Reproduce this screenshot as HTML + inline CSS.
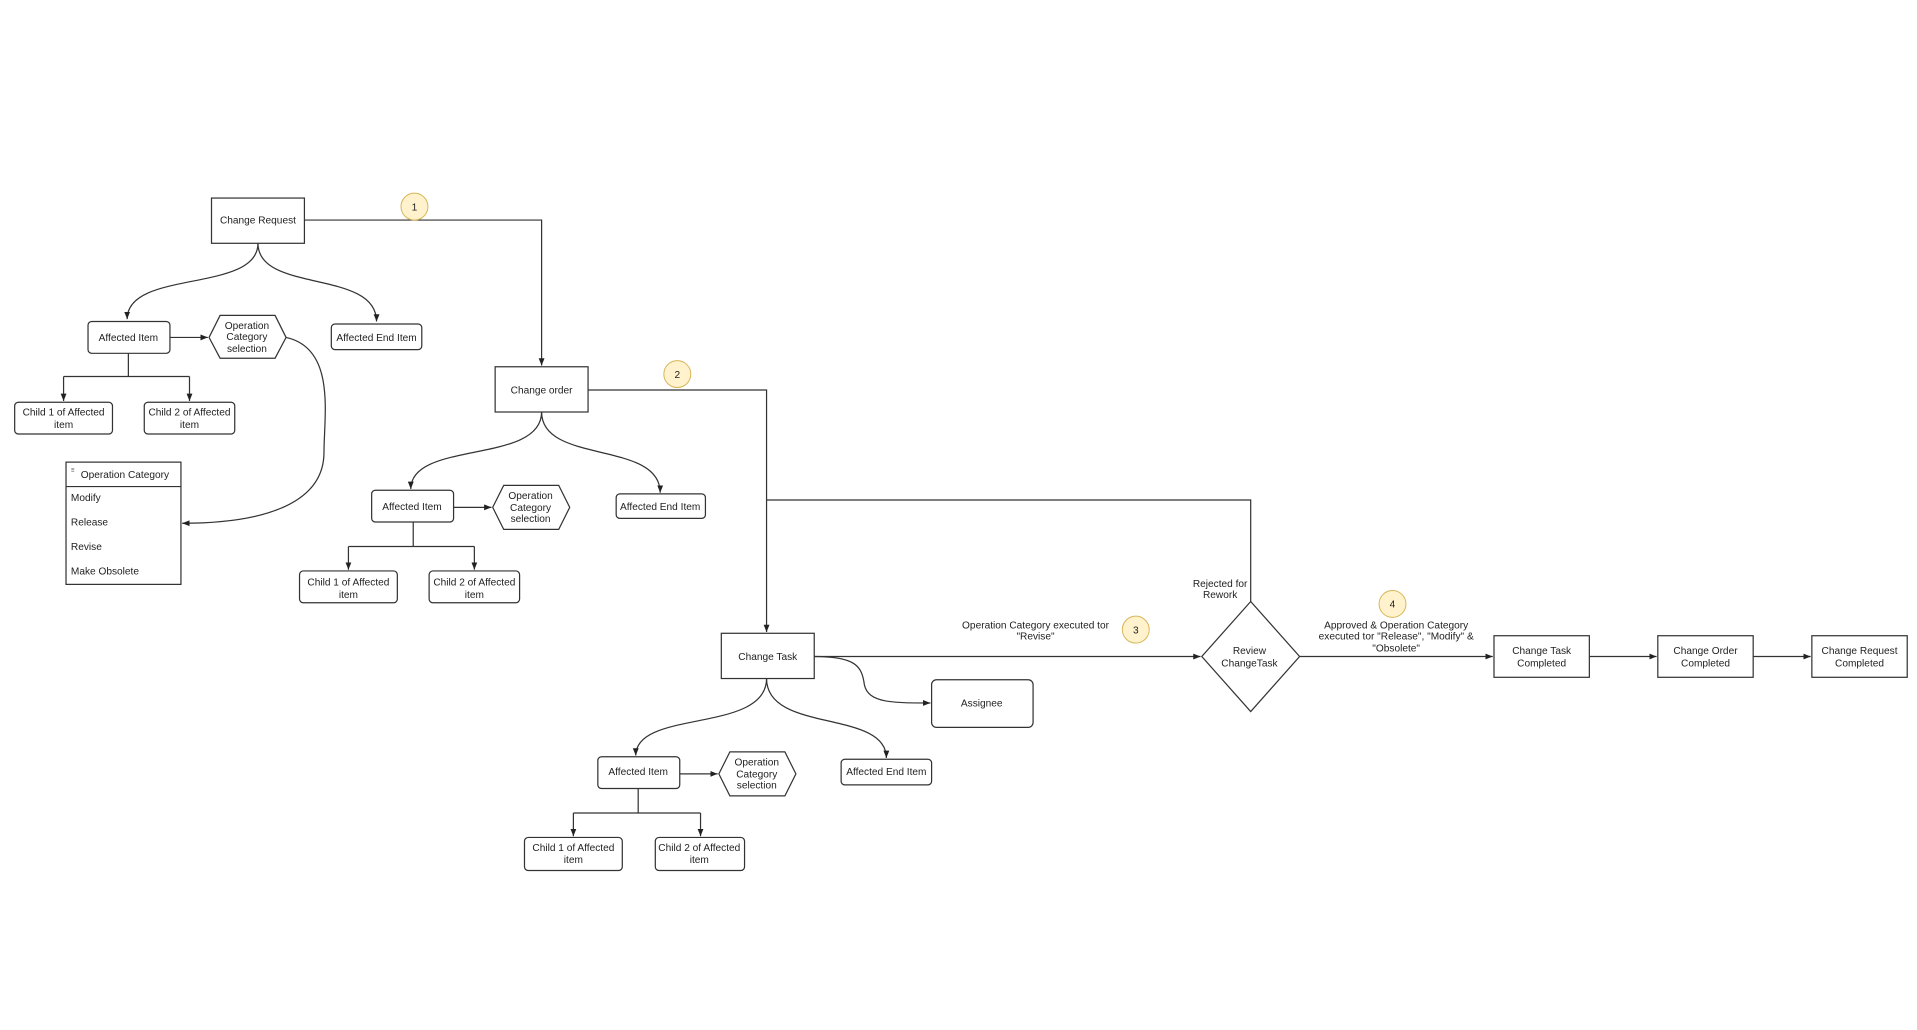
<!DOCTYPE html>
<html><head><meta charset="utf-8"><style>
html,body{margin:0;padding:0;background:#fff;width:1917px;height:1030px;overflow:hidden}
svg{display:block}
text{font-family:"Liberation Sans",Arial,sans-serif;font-size:8.3px;fill:#222;text-anchor:middle}
.b{fill:#fff;stroke:#333;stroke-width:1}
.l{fill:none;stroke:#333;stroke-width:1}
.bd{fill:#fff2cc;stroke:#d6b656;stroke-width:0.8}
</style></head><body>
<svg width="1917" height="1030" viewBox="0 0 1568 842.5" preserveAspectRatio="none" xmlns="http://www.w3.org/2000/svg">
<defs><marker id="a" viewBox="0 0 10 10" refX="10" refY="5" markerWidth="6" markerHeight="6" orient="auto"><path d="M0,1 L10,5 L0,9 z" fill="#222"/></marker></defs>

<!-- Change Request block -->
<rect class="b" x="173" y="162" width="76" height="37"/><text x="211" y="183">Change Request</text>
<path class="l" d="M249,180 H443 V299" marker-end="url(#a)"/>
<circle class="bd" cx="339" cy="169" r="11"/><text x="339" y="172">1</text>
<path class="l" d="M211,199 C211,240 104,220 104,261" marker-end="url(#a)"/>
<path class="l" d="M211,199 C211,240 308,220 308,263" marker-end="url(#a)"/>
<rect class="b" x="72" y="263" width="67" height="26" rx="3"/><text x="105" y="279">Affected Item</text>
<path class="l" d="M139,276 H170" marker-end="url(#a)"/>
<polygon class="b" points="171,276 180,258 225,258 234,276 225,293 180,293"/>
<text x="202" y="269">Operation</text><text x="202" y="278">Category</text><text x="202" y="288">selection</text>
<rect class="b" x="271" y="265" width="74" height="21" rx="3"/><text x="308" y="279">Affected End Item</text>
<path class="l" d="M105,289 V308 M52,308 H155"/>
<path class="l" d="M52,308 V328" marker-end="url(#a)"/><path class="l" d="M155,308 V328" marker-end="url(#a)"/>
<rect class="b" x="12" y="329" width="80" height="26" rx="3"/><text x="52" y="340">Child 1 of Affected</text><text x="52" y="350">item</text>
<rect class="b" x="118" y="329" width="74" height="26" rx="3"/><text x="155" y="340">Child 2 of Affected</text><text x="155" y="350">item</text>
<rect class="b" x="54" y="378" width="94" height="100"/><line class="l" x1="54" y1="398" x2="148" y2="398"/>
<text x="58" y="386" style="font-size:5px;text-anchor:start">≡</text>
<text x="66" y="391" style="text-anchor:start">Operation Category</text>
<text x="58" y="410" style="text-anchor:start">Modify</text>
<text x="58" y="430" style="text-anchor:start">Release</text>
<text x="58" y="450" style="text-anchor:start">Revise</text>
<text x="58" y="470" style="text-anchor:start">Make Obsolete</text>
<path class="l" d="M234,276 C275,285 265,340 265,370 C265,410 220,428 149,428" marker-end="url(#a)"/>

<!-- Change order block -->
<rect class="b" x="405" y="300" width="76" height="37"/><text x="443" y="322">Change order</text>
<circle class="bd" cx="554" cy="306" r="11"/><text x="554" y="309">2</text>
<path class="l" d="M481,319 H627 V517" marker-end="url(#a)"/>
<path class="l" d="M1023,492 V409 H627"/>
<path class="l" d="M443,337 C443,380 336,360 336,400" marker-end="url(#a)"/>
<path class="l" d="M443,337 C443,380 540,360 540,403" marker-end="url(#a)"/>
<rect class="b" x="304" y="401" width="67" height="26" rx="3"/><text x="337" y="417">Affected Item</text>
<path class="l" d="M371,415 H402" marker-end="url(#a)"/>
<polygon class="b" points="403,415 412,397 457,397 466,415 457,433 412,433"/>
<text x="434" y="408">Operation</text><text x="434" y="418">Category</text><text x="434" y="427">selection</text>
<rect class="b" x="504" y="404" width="73" height="20" rx="3"/><text x="540" y="417">Affected End Item</text>
<path class="l" d="M338,427 V447 M285,447 H388"/>
<path class="l" d="M285,447 V466" marker-end="url(#a)"/><path class="l" d="M388,447 V466" marker-end="url(#a)"/>
<rect class="b" x="245" y="467" width="80" height="26" rx="3"/><text x="285" y="479">Child 1 of Affected</text><text x="285" y="489">item</text>
<rect class="b" x="351" y="467" width="74" height="26" rx="3"/><text x="388" y="479">Child 2 of Affected</text><text x="388" y="489">item</text>

<!-- Change Task block -->
<rect class="b" x="590" y="518" width="76" height="37"/><text x="628" y="540">Change Task</text>
<path class="l" d="M666,537 H982" marker-end="url(#a)"/>
<text x="847" y="514">Operation Category executed tor</text><text x="847" y="523">"Revise"</text>
<circle class="bd" cx="929" cy="515" r="11"/><text x="929" y="518">3</text>
<path class="l" d="M666,537 C700,537 705,545 707,560 C710,575 730,575 761,575" marker-end="url(#a)"/>
<rect class="b" x="762" y="556" width="83" height="39" rx="4"/><text x="803" y="578">Assignee</text>
<path class="l" d="M627,555 C627,600 520,580 520,618" marker-end="url(#a)"/>
<path class="l" d="M627,555 C627,600 725,580 725,620" marker-end="url(#a)"/>
<rect class="b" x="489" y="619" width="67" height="26" rx="3"/><text x="522" y="634">Affected Item</text>
<path class="l" d="M556,633 H587" marker-end="url(#a)"/>
<polygon class="b" points="588,633 597,615 642,615 651,633 642,651 597,651"/>
<text x="619" y="626">Operation</text><text x="619" y="636">Category</text><text x="619" y="645">selection</text>
<rect class="b" x="688" y="621" width="74" height="21" rx="3"/><text x="725" y="634">Affected End Item</text>
<path class="l" d="M522,645 V665 M469,665 H573"/>
<path class="l" d="M469,665 V684" marker-end="url(#a)"/><path class="l" d="M573,665 V684" marker-end="url(#a)"/>
<rect class="b" x="429" y="685" width="80" height="27" rx="3"/><text x="469" y="696">Child 1 of Affected</text><text x="469" y="706">item</text>
<rect class="b" x="536" y="685" width="73" height="27" rx="3"/><text x="572" y="696">Child 2 of Affected</text><text x="572" y="706">item</text>

<!-- Review -->
<polygon class="b" points="1023,492 1063,537 1023,582 983,537"/>
<text x="1022" y="535">Review</text><text x="1022" y="545">ChangeTask</text>
<text x="998" y="480">Rejected for</text><text x="998" y="489">Rework</text>
<circle class="bd" cx="1139" cy="494" r="11"/><text x="1139" y="497">4</text>
<text x="1142" y="514">Approved &amp; Operation Category</text>
<text x="1142" y="523">executed tor "Release", "Modify" &amp;</text>
<text x="1142" y="533">"Obsolete"</text>
<path class="l" d="M1063,537 H1221" marker-end="url(#a)"/>
<rect class="b" x="1222" y="520" width="78" height="34"/><text x="1261" y="535">Change Task</text><text x="1261" y="545">Completed</text>
<path class="l" d="M1300,537 H1355" marker-end="url(#a)"/>
<rect class="b" x="1356" y="520" width="78" height="34"/><text x="1395" y="535">Change Order</text><text x="1395" y="545">Completed</text>
<path class="l" d="M1434,537 H1481" marker-end="url(#a)"/>
<rect class="b" x="1482" y="520" width="78" height="34"/><text x="1521" y="535">Change Request</text><text x="1521" y="545">Completed</text>
</svg>
</body></html>
